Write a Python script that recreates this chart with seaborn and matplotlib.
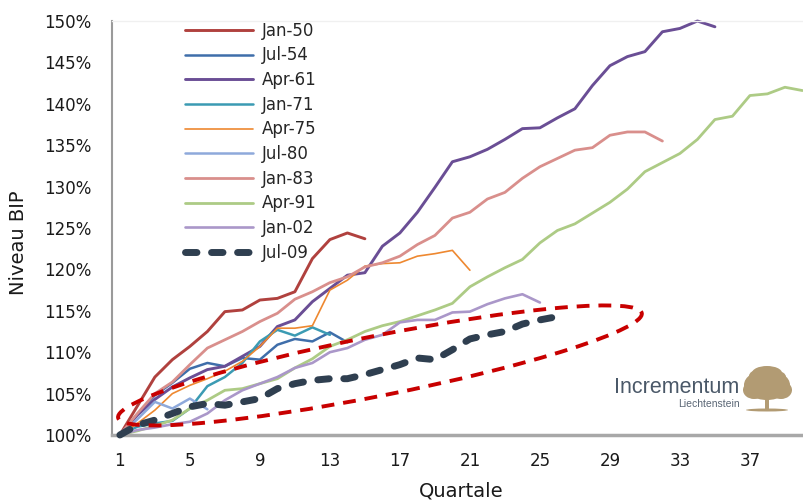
import numpy as np
import pandas as pd
import matplotlib
matplotlib.use("Agg")
import matplotlib.pyplot as plt
import seaborn as sns
from matplotlib.patches import Ellipse, Rectangle
from matplotlib.transforms import ScaledTranslation

# GDP level relative to the start of each expansion, by quarter
zyklen = ["Jan-50", "Jul-54", "Apr-61", "Jan-71", "Apr-75",
          "Jul-80", "Jan-83", "Apr-91", "Jan-02", "Jul-09"]

jan_50 = [100.0, 103.5, 107.0, 109.1, 110.7, 112.5, 114.9, 115.1, 116.3, 116.5,
          117.3, 121.3, 123.6, 124.4, 123.7]
jul_54 = [100.0, 102.5, 104.8, 106.3, 108.0, 108.7, 108.3, 109.3, 109.1, 110.9,
          111.6, 111.3, 112.4, 111.2]
apr_61 = [100.0, 102.4, 104.3, 105.8, 106.9, 107.9, 108.3, 109.5, 110.7, 113.1,
          113.9, 116.1, 117.7, 119.3, 119.6, 122.8, 124.4, 126.9, 129.9, 133.0,
          133.6, 134.5, 135.7, 137.0, 137.1, 138.3, 139.4, 142.2, 144.6, 145.7,
          146.3, 148.7, 149.1, 150.0, 149.3]
jan_71 = [100.0, 101.0, 101.4, 101.7, 103.2, 105.9, 107.0, 108.7, 111.3, 112.7,
          112.0, 113.0, 112.1]
apr_75 = [100.0, 101.4, 103.0, 105.0, 106.0, 106.8, 107.7, 108.9, 110.7, 112.9,
          112.9, 113.2, 117.5, 118.7, 120.4, 120.7, 120.8, 121.6, 121.9, 122.3,
          119.9]
jul_80 = [100.0, 101.9, 104.0, 103.2, 104.4, 103.1]
jan_83 = [100.0, 102.6, 105.0, 106.4, 108.5, 110.5, 111.5, 112.5, 113.7, 114.7,
          116.4, 117.3, 118.4, 119.1, 120.3, 120.8, 121.6, 123.0, 124.1, 126.2,
          126.9, 128.5, 129.3, 131.0, 132.4, 133.4, 134.4, 134.7, 136.2, 136.6,
          136.6, 135.5]
apr_91 = [100.0, 100.5, 101.1, 101.8, 103.2, 104.2, 105.4, 105.6, 106.2, 106.8,
          108.1, 109.2, 110.7, 111.5, 112.5, 113.2, 113.7, 114.4, 115.1, 115.9,
          117.9, 119.1, 120.2, 121.2, 123.2, 124.7, 125.5, 126.8, 128.1, 129.7,
          131.8, 132.9, 134.0, 135.7, 138.1, 138.5, 141.0, 141.2, 142.0, 141.6]
jan_02 = [100.0, 100.6, 100.9, 101.3, 101.6, 102.6, 104.2, 105.4, 106.2, 107.0,
          108.1, 108.7, 110.0, 110.5, 111.5, 112.1, 113.6, 113.9, 113.9, 114.8,
          114.9, 115.8, 116.5, 117.0, 116.0]
jul_09 = [100.0, 101.2, 101.8, 102.6, 103.4, 103.8, 103.6, 104.0, 104.4, 105.6,
          106.2, 106.6, 106.8, 106.8, 107.3, 107.9, 108.5, 109.3, 109.1, 110.3,
          111.6, 112.1, 112.5, 113.4, 113.9, 114.3]

reihen = [jan_50, jul_54, apr_61, jan_71, apr_75, jul_80, jan_83, apr_91, jan_02, jul_09]

farben = ["#B0413E", "#3F6EAA", "#6A4E95", "#3B9BB3", "#EE8830",
          "#8EA9DB", "#D98F8C", "#ADCB85", "#AA97C9", "#2F3F50"]
breiten = [2.1, 1.8, 2.1, 1.8, 1.2, 1.8, 2.0, 2.0, 1.9, 5.0]

x_ticks = list(range(1, 38, 4))
y_ticks = list(range(100, 151, 5))

rows = []
for name, werte in zip(zyklen, reihen):
    for q, v in enumerate(werte, start=1):
        rows.append({"Zyklus": name, "Quartal": q, "Niveau": v})
df = pd.DataFrame(rows)

sns.set_style("white")
plt.rcParams["font.family"] = ["DejaVu Sans"]

fig = plt.figure(figsize=(8.04, 5.0), dpi=100)
ax = fig.add_axes([112 / 804, 65 / 500, 692 / 804, 414 / 500])

for name, farbe, lw in zip(zyklen, farben, breiten):
    sub = df[df["Zyklus"] == name]
    sns.lineplot(data=sub, x="Quartal", y="Niveau", ax=ax, color=farbe,
                 linewidth=lw, label=name, estimator=None, sort=True)

# the current cycle as a heavy dashed line
latest = ax.get_lines()[-1]
latest.set_dashes((1.65, 2.1))
latest.set_dash_capstyle("round")
latest.set_zorder(4)
for ln in ax.get_lines():
    ln.set_clip_on(False)

ax.set_xticks(x_ticks)
ax.set_xticklabels([str(t) for t in x_ticks])
ax.set_xticks([t + 3.5 for t in x_ticks], minor=True)
ax.tick_params(axis="x", which="major", length=0, pad=12.5, labelsize=12, colors="#1a1a1a")
ax.tick_params(axis="x", which="minor", length=5, width=1, color="#9A9A9A", direction="out")
ax.set_yticks(y_ticks)
ax.set_yticklabels([f"{t}%" for t in y_ticks])
ax.tick_params(axis="y", length=6, width=1, color="#9A9A9A", direction="out",
               pad=9, labelsize=12, labelcolor="#1a1a1a")
ax.set_xlim(0.55, 40.09)
ax.set_ylim(100, 150)

# highlight around the current cycle
cx, cy = 15.86, 108.4
ring = Ellipse((0, 0), width=5.34, height=0.60, angle=11.3, fill=False,
               edgecolor="#C80000", linewidth=2.8, linestyle=(0, (3.3, 2.3)),
               transform=fig.dpi_scale_trans + ScaledTranslation(cx, cy, ax.transData),
               zorder=6, clip_on=False)
ax.add_artist(ring)

ax.spines["left"].set_color("#9A9A9A")
ax.spines["left"].set_linewidth(1.5)
ax.spines["bottom"].set_color("#A8A8A8")
ax.spines["bottom"].set_linewidth(2.5)
ax.spines["top"].set_color("#F0F0F0")
ax.spines["top"].set_linewidth(1.0)
ax.spines["right"].set_visible(False)

ax.set_xlabel("Quartale", fontsize=14, color="#1a1a1a")
ax.set_ylabel("Niveau BIP", fontsize=14, color="#1a1a1a")
ax.xaxis.set_label_coords(0.505, -0.112)
ax.yaxis.set_label_coords(-0.1215, 0.465)

leg = ax.legend(loc="upper left", bbox_to_anchor=(0.1055, 0.998), frameon=False,
                fontsize=12, handlelength=4.1, handletextpad=0.5,
                labelspacing=0.40, borderpad=0, borderaxespad=0)

# Incrementum logo
fig.text(739 / 804, (500 - 393) / 500, "Incrementum", ha="right", va="baseline",
         fontsize=15.5, color="#4A5868", family=["Liberation Sans", "DejaVu Sans"])
fig.text(740 / 804, (500 - 407) / 500, "Liechtenstein", ha="right", va="baseline",
         fontsize=7.5, color="#5A6675", family=["Liberation Sans", "DejaVu Sans"])
gold = "#B29B73"
for (ex, ey, ew, eh) in [(767, 385, 46, 30), (754, 390, 22, 18), (781, 390, 22, 18),
                         (767, 373, 30, 14), (758, 376, 18, 12), (777, 377, 18, 12)]:
    fig.add_artist(Ellipse((ex / 804, (500 - ey) / 500), ew / 804, eh / 500,
                           transform=fig.transFigure, color=gold, lw=0))
fig.add_artist(Rectangle((765 / 804, (500 - 410) / 500), 4 / 804, 14 / 500,
                         transform=fig.transFigure, color=gold, lw=0))
fig.add_artist(Ellipse((767 / 804, (500 - 410) / 500), 42 / 804, 3 / 500,
                       transform=fig.transFigure, color=gold, lw=0))

fig.savefig("out.png", dpi=100)
